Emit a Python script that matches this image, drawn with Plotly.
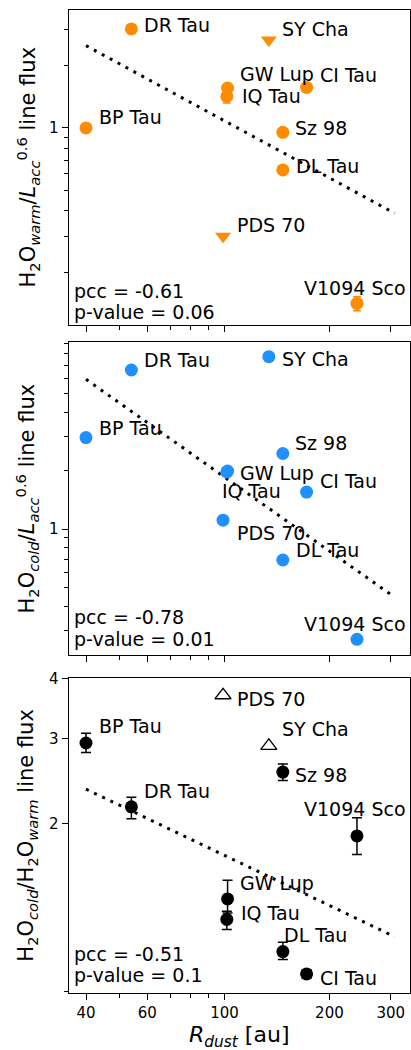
import math
import plotly.graph_objects as go

# ---------------- data ----------------
names = ["BP Tau", "DR Tau", "PDS 70", "GW Lup", "IQ Tau",
         "SY Cha", "Sz 98", "DL Tau", "CI Tau", "V1094 Sco"]
r_dust = [40, 54, 99, 102, 101.5, 134, 147, 147, 172, 240]

# panel 1: H2O warm / L_acc^0.6
warm = [1.00, 3.01, 0.30, 1.56, 1.42, 2.66, 0.953, 0.627, 1.57, 0.142]
warm_err = [0, 0, 0, 0, 0.10, 0, 0, 0, 0, 0.011]
warm_upper_limit = [False, False, True, False, False, True, False, False, False, False]

# panel 2: H2O cold / L_acc^0.6
cold = [2.96, 6.60, 1.11, 1.99, 1.97, 7.73, 2.45, 0.692, 1.55, 0.270]

# panel 3: H2O cold / H2O warm
ratio = [2.94, 2.17, 3.69, 1.40, 1.27, 2.90, 2.56, 1.09, 0.98, 1.89]
ratio_err_hi = [0.14, 0.10, 0, 0.13, 0.05, 0, 0.10, 0.05, 0.02, 0.17]
ratio_err_lo = [0.13, 0.12, 0, 0.09, 0.06, 0, 0.10, 0.04, 0.02, 0.16]
ratio_lower_limit = [False, False, True, False, False, True, False, False, False, False]

# fitted trend lines (end points)
fit_x = [40, 308]
fit_warm = [2.50, 0.387]
fit_cold = [5.91, 0.445]
fit_ratio = [2.36, 1.17]

pcc = ["-0.61", "-0.78", "-0.51"]
pvalue = ["0.06", "0.01", "0.1"]

x_ticks = [40, 60, 100, 200, 300]
x_minor = [50, 70, 80, 90]

# ---------------- styling / layout ----------------
W, H = 411, 1050
FONT = "DejaVu Sans"
ORANGE = "#FF8C00"
BLUE = "#1E90FF"
BLACK = "black"

x_left_px, x_right_px = 68.5, 410
panels_px = [(10, 325), (342, 655), (678.3, 993)]  # top,bottom pixel of each axis box

# label offsets (px, right / down) per panel
off1 = {"BP Tau": (12.3, -11), "DR Tau": (12, -4), "PDS 70": (12.7, -10.9),
        "GW Lup": (11.6, -14.3), "IQ Tau": (13.7, 0), "SY Cha": (12.4, -10.7),
        "CI Tau": (12, -12), "Sz 98": (11.6, -4), "DL Tau": (12.3, -3.7),
        "V1094 Sco": (-54, -15.3)}
off2 = {"BP Tau": (12.3, -10), "DR Tau": (12, -10), "PDS 70": (12.7, 12.4),
        "GW Lup": (11.6, 2), "IQ Tau": (-6, 18.7), "SY Cha": (12.4, 2.6),
        "CI Tau": (12, -11.3), "Sz 98": (11.6, -10.6), "DL Tau": (12.3, -10),
        "V1094 Sco": (-54, -15)}
off3 = {"BP Tau": (12.3, -16.6), "DR Tau": (12, -16.3), "PDS 70": (12.7, 3.7),
        "GW Lup": (11.6, -16.3), "IQ Tau": (13, -6.3), "SY Cha": (12.4, -16.6),
        "CI Tau": (12, 4), "Sz 98": (11.6, 3), "DL Tau": (0.6, -16.4),
        "V1094 Sco": (-54, -26.7)}

y_ranges = [[-0.952, 0.570], [-0.6495, 0.964], [math.log10(0.895), math.log10(4.0)]]
x_range = [1.5518, 2.5325]

fig = go.Figure()

def idx(flags, want):
    return [i for i, f in enumerate(flags) if f == want]

# ---- panel 1 ----
ci = idx(warm_upper_limit, False)
li = idx(warm_upper_limit, True)
fig.add_trace(go.Scatter(x=fit_x, y=fit_warm, mode="lines", xaxis="x", yaxis="y",
                         line=dict(color=BLACK, width=3, dash="3px,6px")))
fig.add_trace(go.Scatter(x=[r_dust[i] for i in ci], y=[warm[i] for i in ci], mode="markers",
                         xaxis="x", yaxis="y",
                         marker=dict(symbol="circle", size=13, color=ORANGE),
                         error_y=dict(type="data", array=[warm_err[i] for i in ci],
                                      color=ORANGE, thickness=1.5, width=4)))
fig.add_trace(go.Scatter(x=[r_dust[i] for i in li], y=[warm[i] for i in li], mode="markers",
                         xaxis="x", yaxis="y",
                         marker=dict(symbol="triangle-down", size=14, color=ORANGE)))

# ---- panel 2 ----
fig.add_trace(go.Scatter(x=fit_x, y=fit_cold, mode="lines", xaxis="x2", yaxis="y2",
                         line=dict(color=BLACK, width=3, dash="3px,6px")))
fig.add_trace(go.Scatter(x=r_dust, y=cold, mode="markers", xaxis="x2", yaxis="y2",
                         marker=dict(symbol="circle", size=13, color=BLUE)))

# ---- panel 3 ----
ci = idx(ratio_lower_limit, False)
li = idx(ratio_lower_limit, True)
fig.add_trace(go.Scatter(x=fit_x, y=fit_ratio, mode="lines", xaxis="x3", yaxis="y3",
                         line=dict(color=BLACK, width=3, dash="3px,6px")))
fig.add_trace(go.Scatter(x=[r_dust[i] for i in ci], y=[ratio[i] for i in ci], mode="markers",
                         xaxis="x3", yaxis="y3",
                         marker=dict(symbol="circle", size=13, color=BLACK),
                         error_y=dict(type="data", symmetric=False,
                                      array=[ratio_err_hi[i] for i in ci],
                                      arrayminus=[ratio_err_lo[i] for i in ci],
                                      color=BLACK, thickness=1.5, width=5)))
fig.add_trace(go.Scatter(x=[r_dust[i] for i in li], y=[ratio[i] for i in li], mode="markers",
                         xaxis="x3", yaxis="y3",
                         marker=dict(symbol="triangle-up-open", size=14, color=BLACK,
                                     line=dict(width=1.3, color=BLACK))))

annotations = []
label_font = dict(family=FONT, size=19, color=BLACK)
for p, (vals, offs) in enumerate([(warm, off1), (cold, off2), (ratio, off3)]):
    xr = "x" if p == 0 else f"x{p+1}"
    yr = "y" if p == 0 else f"y{p+1}"
    for n, xv, yv in zip(names, r_dust, vals):
        dx, dy = offs[n]
        annotations.append(dict(x=math.log10(xv), y=math.log10(yv), xref=xr, yref=yr,
                                text=n, showarrow=False, xanchor="left", yanchor="middle",
                                xshift=dx - 1, yshift=-dy, font=label_font))
    top, bot = panels_px[p]
    hgt = bot - top
    for txt, ypx in [(f"pcc = {pcc[p]}", None), (f"p-value = {pvalue[p]}", None)]:
        pass
    stat_centers = [(290.7 - 10, 311.7 - 10), (617.3 - 342, 639.3 - 342), (954 - 678.3, 975 - 678.3)][p]
    for txt, c in zip([f"pcc = {pcc[p]}", f"p-value = {pvalue[p]}"], stat_centers):
        annotations.append(dict(x=(73 - 1 - x_left_px) / (x_right_px - x_left_px),
                                y=1 - c / hgt, xref=f"{xr} domain", yref=f"{yr} domain",
                                text=txt, showarrow=False, xanchor="left", yanchor="middle",
                                font=label_font))

# axis titles
ytitles = ["H<sub>2</sub>O<sub><i>warm</i></sub>/<i>L</i><sub><i>acc</i></sub><sup>0.6</sup> line flux",
           "H<sub>2</sub>O<sub><i>cold</i></sub>/<i>L</i><sub><i>acc</i></sub><sup>0.6</sup> line flux",
           "H<sub>2</sub>O<sub><i>cold</i></sub>/H<sub>2</sub>O<sub><i>warm</i></sub> line flux"]
for p in range(3):
    top, bot = panels_px[p]
    annotations.append(dict(x=27 / W, y=1 - (top + bot) / 2 / H, xref="paper", yref="paper",
                            text=ytitles[p], showarrow=False, textangle=-90,
                            xanchor="center", yanchor="middle",
                            font=dict(family=FONT, size=21, color=BLACK)))
annotations.append(dict(x=(x_left_px + x_right_px) / 2 / W, y=1 - 1036 / H,
                        xref="paper", yref="paper",
                        text="<i>R</i><sub><i>dust</i></sub> [au]", showarrow=False,
                        xanchor="center", yanchor="middle",
                        font=dict(family=FONT, size=22, color=BLACK)))

x_dom = [x_left_px / W, x_right_px / W]
tickfont = dict(family=FONT, size=15, color=BLACK)

def xaxis(anchor, show_labels):
    return dict(type="log", range=x_range, domain=x_dom, anchor=anchor,
                showline=True, linecolor=BLACK, linewidth=1, mirror=True,
                ticks="outside", ticklen=6, tickwidth=1, tickcolor=BLACK,
                tickmode="array", tickvals=x_ticks,
                ticktext=[str(t) for t in x_ticks] if show_labels else [""] * len(x_ticks),
                showticklabels=show_labels, tickfont=tickfont,
                minor=dict(ticks="outside", ticklen=3.5, tickwidth=1, tickcolor=BLACK,
                           tickmode="array", tickvals=x_minor, showgrid=False),
                showgrid=False, zeroline=False, automargin=False)

def yaxis(anchor, p, tickvals, ticktext, minor_vals):
    top, bot = panels_px[p]
    return dict(type="log", range=y_ranges[p], domain=[1 - bot / H, 1 - top / H], anchor=anchor,
                showline=True, linecolor=BLACK, linewidth=1, mirror=True,
                ticks="outside", ticklen=6, tickwidth=1, tickcolor=BLACK,
                tickmode="array", tickvals=tickvals, ticktext=ticktext, tickfont=tickfont,
                minor=dict(ticks="outside", ticklen=3.5, tickwidth=1, tickcolor=BLACK,
                           tickmode="array", tickvals=minor_vals, showgrid=False),
                showgrid=False, zeroline=False, automargin=False)

fig.update_layout(
    width=W, height=H, margin=dict(l=0, r=0, t=0, b=0),
    paper_bgcolor="white", plot_bgcolor="white", showlegend=False,
    font=dict(family=FONT, color=BLACK),
    xaxis=xaxis("y", False), yaxis=yaxis("x", 0, [1], ["1"],
                                        [0.2, 0.3, 0.4, 0.5, 0.6, 0.7, 0.8, 0.9, 2, 3]),
    xaxis2=xaxis("y2", False), yaxis2=yaxis("x2", 1, [1], ["1"],
                                           [0.3, 0.4, 0.5, 0.6, 0.7, 0.8, 0.9, 2, 3, 4, 5, 6, 7, 8, 9]),
    xaxis3=xaxis("y3", True), yaxis3=yaxis("x3", 2, [2, 3, 4], ["2", "3", "4"], [0.9]),
    annotations=annotations, hovermode=False,
)
fig.update_layout(xaxis2_matches="x", xaxis3_matches="x")

fig.write_html("out.html")
